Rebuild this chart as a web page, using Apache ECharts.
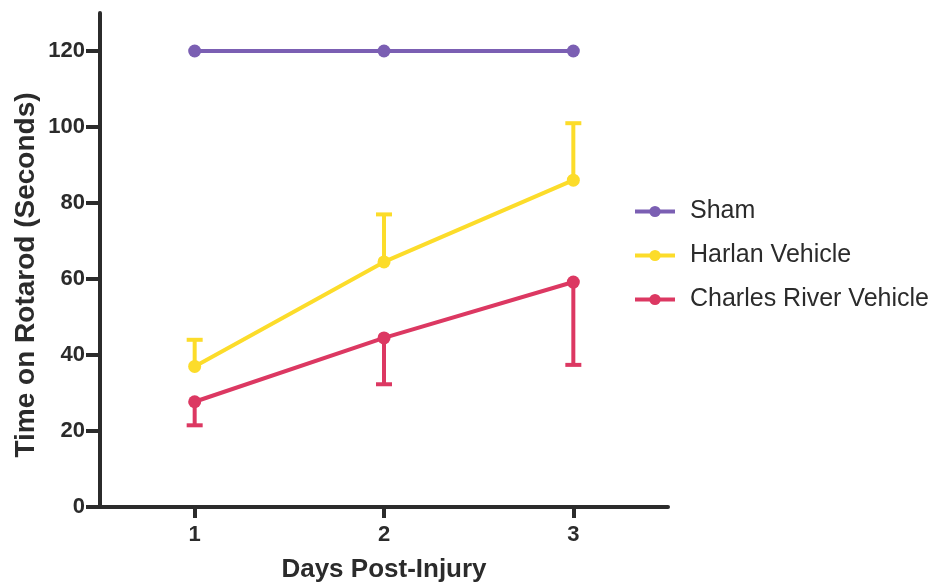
<!DOCTYPE html>
<html>
<head>
<meta charset="utf-8">
<script src="https://cdn.jsdelivr.net/npm/echarts@6/dist/echarts.min.js"></script>
<style>html,body{margin:0;padding:0;background:#fff}#c{width:937px;height:585px}</style>
</head>
<body>
<div id="c"></div>
<script>
const days = ['1', '2', '3'];
const seriesNames = ['Sham', 'Harlan Vehicle', 'Charles River Vehicle'];
const shamMean = [120, 120, 120];
const harlanMean = [37, 64.5, 86];
const harlanUpper = [44, 77, 101];
const charlesMean = [27.7, 44.5, 59.2];
const charlesLower = [21.5, 32.3, 37.4];
const yTicks = [0, 20, 40, 60, 80, 100, 120];
const yTitle = 'Time on Rotarod (Seconds)';
const xTitle = 'Days Post-Injury';

const colors = ['#7b5fb3', '#fcdc2a', '#dc3862'];
const axisColor = '#2b2b2b';
const FONT = 'Liberation Sans';

// [categoryIndex, mean, errorEnd]
function errData(mean, end) { return days.map((d, i) => [i, mean[i], end[i]]); }

function errRender(color) {
  return function (params, api) {
    const x = api.value(0);
    const a = api.coord([x, api.value(1)]);
    const b = api.coord([x, api.value(2)]);
    const cap = 8;
    const style = { stroke: color, lineWidth: 4, fill: null };
    return {
      type: 'group',
      children: [
        { type: 'line', shape: { x1: a[0], y1: a[1], x2: b[0], y2: b[1] }, style },
        { type: 'line', shape: { x1: b[0] - cap, y1: b[1], x2: b[0] + cap, y2: b[1] }, style }
      ]
    };
  };
}

const chart = echarts.init(document.getElementById('c'));
const lineSeries = (name, vals, color) => ({
  name, type: 'line', data: vals, symbol: 'circle', symbolSize: 13,
  itemStyle: { color }, lineStyle: { color, width: 4 }, z: 3
});

chart.setOption({
  animation: false,
  textStyle: { fontFamily: FONT },
  grid: { left: 100, right: 269, top: 13, bottom: 78, outerBoundsMode: 'none', containLabel: false },
  legend: {
    data: seriesNames, orient: 'vertical', left: 628, top: 194,
    itemWidth: 40, itemHeight: 14, itemGap: 19,
    lineStyle: { width: 4 },
    textStyle: { fontSize: 25, color: '#2b2b2b', fontFamily: FONT, padding: [0, 0, 0, 10] }
  },
  graphic: [{
    type: 'text', x: 26, y: 275, rotation: Math.PI / 2,
    style: { text: yTitle, font: 'bold 28px "Liberation Sans"', fill: axisColor,
      textAlign: 'center', textVerticalAlign: 'middle' }
  }],
  xAxis: {
    type: 'category', data: days, boundaryGap: true,
    name: xTitle, nameLocation: 'middle', nameGap: 50,
    nameTextStyle: { fontSize: 26, fontWeight: 'bold', color: axisColor },
    axisLine: { lineStyle: { color: axisColor, width: 4 } },
    axisTick: { show: true, alignWithLabel: true, length: 11, lineStyle: { color: axisColor, width: 4 } },
    axisLabel: { fontSize: 22, fontWeight: 'bold', color: axisColor, margin: 17 },
    splitLine: { show: false }
  },
  yAxis: {
    type: 'value', min: 0, max: 130,
    axisLine: { show: true, lineStyle: { color: axisColor, width: 4 } },
    axisTick: { show: true, length: 14, customValues: yTicks, lineStyle: { color: axisColor, width: 4 } },
    axisLabel: { fontSize: 22, fontWeight: 'bold', color: axisColor, margin: 15, customValues: yTicks },
    splitLine: { show: false }
  },
  series: [
    { name: 'harlanErr', type: 'custom', data: errData(harlanMean, harlanUpper),
      renderItem: errRender(colors[1]), encode: { x: 0, y: [1, 2] }, z: 2 },
    { name: 'charlesErr', type: 'custom', data: errData(charlesMean, charlesLower),
      renderItem: errRender(colors[2]), encode: { x: 0, y: [1, 2] }, z: 2 },
    lineSeries(seriesNames[0], shamMean, colors[0]),
    lineSeries(seriesNames[1], harlanMean, colors[1]),
    lineSeries(seriesNames[2], charlesMean, colors[2])
  ]
});
</script>
</body>
</html>
